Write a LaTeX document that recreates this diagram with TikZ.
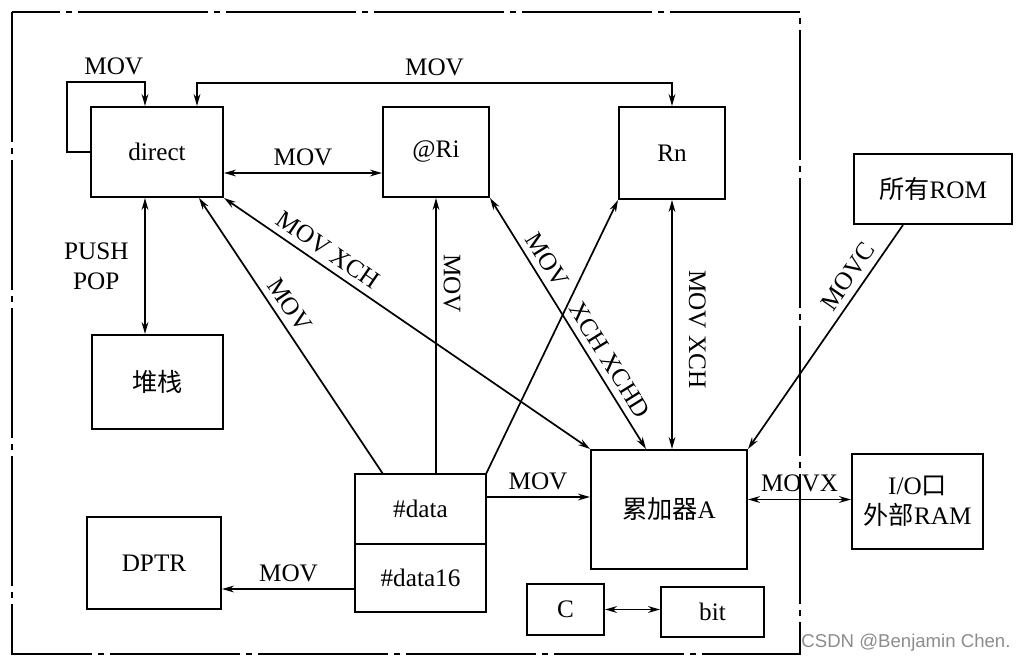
\documentclass[tikz,border=0pt]{standalone}
\usepackage{fontspec}
\setmainfont{Liberation Serif}
\newfontfamily\cjk{Noto Sans CJK SC}
\newfontfamily\wmfont{Liberation Sans}
\usetikzlibrary{arrows.meta}

\tikzset{
  box/.style={draw, line width=1pt, inner sep=0pt},
  arr/.style={line width=0.85pt, -{Stealth[length=6pt,width=3.4pt]}},
  rarr/.style={line width=0.85pt, {Stealth[length=6pt,width=3.4pt]}-},
  darr/.style={line width=0.85pt, {Stealth[length=6pt,width=3.4pt]}-{Stealth[length=6pt,width=3.4pt]}},
}

\begin{document}
\begin{tikzpicture}[x=0.5pt, y=-0.5pt, font=\fontsize{12.6}{15}\selectfont]
  \useasboundingbox (0,0) rectangle (1034,664);
  % Rahmen (interner Speicher)
  \draw[line width=0.9pt, dash pattern=on 65pt off 3pt on 3pt off 3pt] (12,12) rectangle (800,654);
  % Kaesten
  \node[box, minimum width=66pt, minimum height=45pt] (direct) at (157,152) {direct};
  \node[box, minimum width=53pt, minimum height=45pt] (ri) at (436,152) {@Ri};
  \node[box, minimum width=53pt, minimum height=46pt] (rn) at (672,153) {Rn};
  \node[box, minimum width=79pt, minimum height=35pt] (rom) at (933,189) {{\cjk 所有}ROM};
  \node[box, minimum width=65.5pt, minimum height=47pt] (stack) at (157.5,382) {\cjk 堆栈};
  \node[box, minimum width=67pt, minimum height=46pt] (dptr) at (154,563) {DPTR};
  \node[box, outer sep=0pt, minimum width=65.5pt, minimum height=35pt] (data) at (420.5,509) {\#data};
  \node[box, outer sep=0pt, minimum width=65.5pt, minimum height=34pt, anchor=north] (data16) at (data.south) {\#data16};
  \node[box, minimum width=78pt, minimum height=59.5pt] (acc) at (669,509.5) {{\cjk 累加器}A};
  \node[box, minimum width=65.5pt, minimum height=47.5pt, align=center] (io) at (917.5,501.5) {I/O{\cjk 口}\\{\cjk 外部}RAM};
  \node[box, minimum width=38.5pt, minimum height=25.5pt] (c) at (565.5,609.5) {C};
  \node[box, minimum width=51.5pt, minimum height=25pt] (bit) at (712.5,612) {bit};
  % Verbindungen
  \coordinate (loop) at (67,82);
  \draw[arr] (direct.west) -| (loop) -| ([xshift=-6pt]direct.north) node[pos=0.3, above] {MOV};
  \draw[darr] ([xshift=20pt]direct.north) -- ++(0,-23) -| (rn.north) node[pos=0.25, above] {MOV};
  \draw[darr] ([yshift=-10.5pt]direct.east) -- ([yshift=-10.5pt]ri.west) node[midway, above] {MOV};
  \draw[darr] ([xshift=-6pt]direct.south) -- ([xshift=-6pt]direct.south |- stack.north)
    node[midway, left, align=center, xshift=-4.5pt] {PUSH\\POP};
  \draw[arr] ([xshift=-18.75pt]data.north) -- ([xshift=21pt]direct.south) node[pos=0.58, above, sloped] {MOV};
  \draw[darr] (direct.south east) -- (acc.north west) node[pos=0.26, above, sloped] {MOV XCH};
  \draw[rarr] (ri.south) -- (ri.south |- data.north) node[pos=0.31, above, sloped] {MOV};
  \draw[arr] (data.north east) -- (rn.south west);
  \draw[darr] (ri.south east) -- ([xshift=-11.5pt]acc.north)
    node[pos=0.28, above, sloped] {MOV} node[pos=0.68, above, sloped] {XCH XCHD};
  \draw[darr] (rn.south) -- (rn.south |- acc.north) node[pos=0.52, above, sloped, inner sep=8pt] {MOV XCH};
  \draw[arr] ([xshift=-15pt]rom.south) -- (acc.north east) node[pos=0.27, above, sloped] {MOVC};
  \draw[arr] ([yshift=6pt]data.east) -- ([yshift=6pt]data.east -| acc.west) node[midway, above] {MOV};
  \draw[darr] ([yshift=5pt]acc.east) -- ([yshift=5pt]acc.east -| io.west) node[midway, above] {MOVX};
  \draw[arr] ([yshift=-5.5pt]data16.west) -- ([yshift=-5.5pt]data16.west -| dptr.east) node[midway, above] {MOV};
  \draw[darr] (c.east) -- (c.east -| bit.west);
  % Wasserzeichen
  \node[font=\wmfont\fontsize{9.3}{11}\selectfont, text=black!45] (wm) at (906,643) {CSDN @Benjamin Chen.};
\end{tikzpicture}
\end{document}
